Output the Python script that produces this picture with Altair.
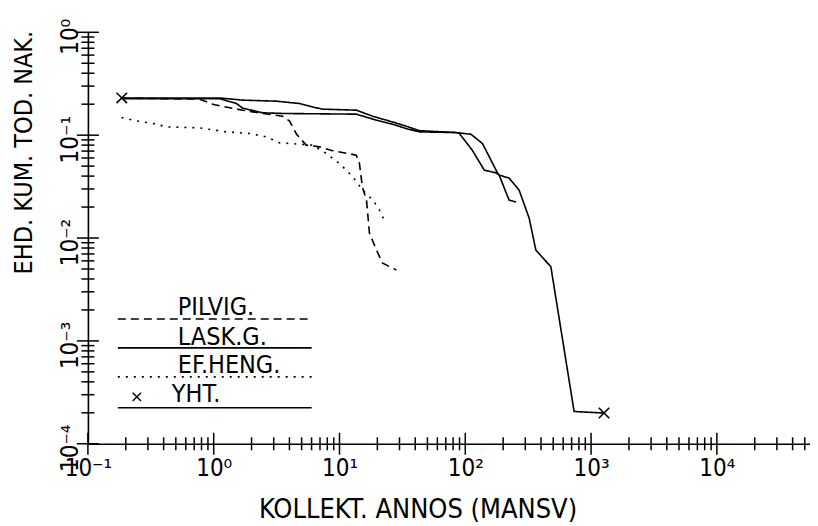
import math
import altair as alt
import pandas as pd

# ---- data (dose in manSv, cumulative probability) ----
series_names = ["PILVIG.", "LASK.G.", "EF.HENG.", "YHT."]

pilvig_x = [0.186, 0.774, 0.982, 1.157, 1.70, 2.45, 3.53, 4.01, 4.56, 5.44, 6.94, 8.80,
            13.6, 14.4, 15.2, 16.4, 17.3, 19.7, 21.9, 28.3]
pilvig_y = [0.229, 0.224, 0.200, 0.191, 0.175, 0.1625, 0.153, 0.137, 0.102, 0.080, 0.077, 0.0707,
            0.064, 0.0535, 0.0313, 0.0234, 0.0112, 0.00764, 0.00572, 0.00489]

lask_x = [0.186, 1.116, 1.52, 1.70, 2.45, 3.53, 13.6, 19.6, 26.3, 33.8, 43.2, 84.4, 89.6,
          113.6, 141.5, 175, 186, 215, 223, 254]
lask_y = [0.226, 0.226, 0.203, 0.183, 0.165, 0.1625, 0.160, 0.140, 0.128, 0.116, 0.1076, 0.106, 0.104,
          0.0715, 0.0457, 0.0431, 0.0409, 0.0261, 0.0234, 0.0224]

efheng_x = [0.185, 0.243, 0.33, 0.421, 0.774, 1.26, 1.93, 2.62, 3.34, 4.81, 6.14, 7.84,
            10.0, 12.75, 15.3, 18.4, 20.8, 22.8]
efheng_y = [0.1485, 0.1377, 0.130, 0.1204, 0.1177, 0.1076, 0.1039, 0.0963, 0.0842, 0.0818, 0.080, 0.0664,
            0.0531, 0.0394, 0.0292, 0.0234, 0.0187, 0.0147]

yht_x = [0.186, 1.116, 1.70, 3.16, 4.81, 6.11, 7.33, 13.6, 18.3, 20.8, 26.3, 33.8, 43.2, 84.4,
         111, 137, 180, 186, 223, 268, 322, 364, 479, 733, 1268]
yht_y = [0.230, 0.230, 0.219, 0.214, 0.203, 0.188, 0.179, 0.175, 0.153, 0.146, 0.1346, 0.1223, 0.1106, 0.106,
         0.102, 0.083, 0.0431, 0.0409, 0.0383, 0.0292, 0.0156, 0.00764, 0.00526, 0.000206, 0.000199]

x_tick_labels = ["10⁻¹", "10⁰", "10¹", "10²", "10³", "10⁴"]
y_tick_labels = ["10⁻⁴", "10⁻³", "10⁻²", "10⁻¹", "10⁰"]

x_title = "KOLLEKT. ANNOS (MANSV)"
y_title = "EHD. KUM. TOD. NAK."

# ---- tables ----
rows = []
for name, xs, ys in zip(series_names, [pilvig_x, lask_x, efheng_x, yht_x],
                        [pilvig_y, lask_y, efheng_y, yht_y]):
    for i, (a, b) in enumerate(zip(xs, ys)):
        rows.append({"series": name, "dose": a, "risk": b, "idx": i})
df = pd.DataFrame(rows)

markers_df = pd.DataFrame({"dose": [yht_x[0], yht_x[-1]], "risk": [yht_y[0], yht_y[-1]]})

# ---- axes ----
FONT = "DejaVu Sans Condensed, Liberation Sans Narrow, DejaVu Sans"
x_major = [10.0 ** e for e in range(-1, 5)]
x_all = [round(m * 10.0 ** e, 6) for e in range(-1, 5) for m in range(1, 10) if m * 10.0 ** e <= 55000]
y_major = [10.0 ** e for e in range(-4, 1)]
y_all = [round(m * 10.0 ** e, 8) for e in range(-4, 0) for m in range(1, 10)] + [1.0]


def kind(v):
    return "major" if abs(math.log10(v) - round(math.log10(v))) < 1e-6 else "minor"


lg = "log(datum.value)/LN10"


def label_expr(labels, lo):
    arr = "[" + ",".join("'" + s + "'" for s in labels) + "]"
    return f"{arr}[round({lg}) - ({lo})]"


x_axis = alt.Axis(
    values=x_major, labelExpr=label_expr(x_tick_labels, -1), ticks=False,
    grid=False, domainColor="black", domainWidth=1.6,
    labelFont=FONT, labelFontSize=24, labelColor="black", labelPadding=13,
    labelOverlap=False, labelFlush=False, labelBaseline="top",
    title=x_title, titleFont=FONT, titleFontSize=27, titleFontWeight="normal",
    titleColor="black", titleX=330, titleY=74, titleAlign="center", titleBaseline="alphabetic",
)
y_axis = alt.Axis(
    values=y_major, labelExpr=label_expr(y_tick_labels, -4), ticks=False,
    grid=False, domainColor="black", domainWidth=1.6,
    labelFont=FONT, labelFontSize=24, labelColor="black", labelPadding=5,
    labelOverlap=False, labelFlush=False, labelAngle=270, labelAlign="center",
    labelBaseline="bottom", labelOffset=4,
    title=y_title, titleFont=FONT, titleFontSize=25, titleFontWeight="normal",
    titleColor="black", titleAngle=270, titleX=-64, titleY=-2, titleAlign="right",
    titleBaseline="middle",
)

x_scale = alt.Scale(type="log", domain=[0.1, 55000], nice=False)
y_scale = alt.Scale(type="log", domain=[0.0001, 1], nice=False)

dash_range = [[8, 5], [1, 0], [2, 6], [1, 0]]

lines = alt.Chart(df).mark_line(color="black", strokeWidth=1.6).encode(
    x=alt.X("dose:Q", scale=x_scale, axis=x_axis),
    y=alt.Y("risk:Q", scale=y_scale, axis=y_axis),
    detail="series:N",
    order="idx:Q",
    strokeDash=alt.StrokeDash("series:N", scale=alt.Scale(domain=series_names, range=dash_range),
                              legend=None),
)

CROSS = "M-1,-1L1,1M-1,1L1,-1"
markers = alt.Chart(markers_df).mark_point(
    shape=CROSS, size=110, filled=False, color="black", strokeWidth=1.6, opacity=1
).encode(x=alt.X("dose:Q", scale=x_scale), y=alt.Y("risk:Q", scale=y_scale))

# ---- axis ticks placed through the scales ----
xt = pd.DataFrame({"dose": x_all, "kind": [kind(v) for v in x_all]})
yt = pd.DataFrame({"risk": y_all, "kind": [kind(v) for v in y_all]})
size_scale = alt.Scale(domain=["major", "minor"], range=[22, 13])
x_ticks_layer = alt.Chart(xt).mark_tick(
    color="black", thickness=1.5, orient="vertical", opacity=1
).encode(
    x=alt.X("dose:Q", scale=x_scale),
    y=alt.value(412),
    size=alt.Size("kind:N", scale=size_scale, legend=None),
)
y_ticks_layer = alt.Chart(yt).mark_tick(
    color="black", thickness=1.5, orient="horizontal", opacity=1
).encode(
    y=alt.Y("risk:Q", scale=y_scale),
    x=alt.value(0),
    size=alt.Size("kind:N", scale=size_scale, legend=None),
)

# ---- hand-drawn style legend inside the plot ----
leg_text_x = [90, 90, 90, 84]
leg_text_y = [283, 313, 341, 370]
leg_line_y = [287, 316, 345, 376]
layers = [lines, markers, x_ticks_layer, y_ticks_layer]
for name, tx, ty, ly, dash in zip(series_names, leg_text_x, leg_text_y, leg_line_y, dash_range):
    one = pd.DataFrame({"series": [name]})
    layers.append(alt.Chart(one).mark_text(
        align="left", baseline="alphabetic", font=FONT, fontSize=25, color="black"
    ).encode(x=alt.value(tx), y=alt.value(ty), text="series:N"))
    layers.append(alt.Chart(one).mark_rule(color="black", strokeWidth=1.6, strokeDash=dash).encode(
        x=alt.value(30), x2=alt.value(224), y=alt.value(ly)))
layers.append(alt.Chart(pd.DataFrame({"series": ["YHT."]})).mark_point(
    shape=CROSS, size=70, filled=False, color="black", strokeWidth=1.4, opacity=1
).encode(x=alt.value(49), y=alt.value(365)))

chart = alt.layer(*layers).resolve_scale(size="independent").properties(
    width=723, height=412,
    autosize=alt.AutoSizeParams(type="none"),
    padding={"left": 80, "top": 24, "right": 0, "bottom": 80},
    background="white",
).configure_view(stroke=None)

chart.save("out.html", embed_options={"renderer": "svg", "actions": False})
